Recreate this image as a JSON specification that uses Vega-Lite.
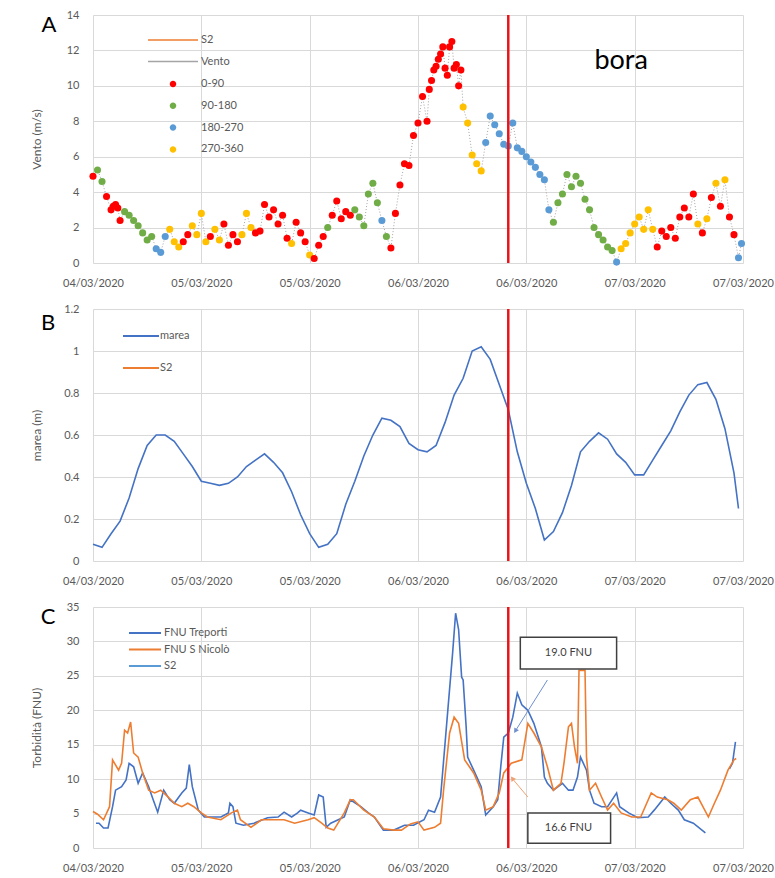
{
"$schema":"https://vega.github.io/schema/vega-lite/v6.json",
"padding":{"left":30,"top":9,"right":0,"bottom":0},
"background":"white",
"config":{
 "font":"Lato",
 "view":{"stroke":null},
 "axis":{"labelFont":"Lato","labelFontSize":11,"labelColor":"#595959","titleFont":"Lato","titleFontSize":12,"titleFontWeight":"normal","titleColor":"#595959","gridColor":"#d9d9d9","domain":false,"ticks":false},
 "legend":{"labelFont":"Lato","labelFontSize":11,"labelColor":"#595959","padding":0},
 "concat":{"spacing":15}
},
"datasets":{
"wind":[
{"t":"2020-03-04T12:00","v":4.9,"d":"0-90"},{"t":"2020-03-04T12:30","v":5.25,"d":"90-180"},{"t":"2020-03-04T13:00","v":4.6,"d":"90-180"},{"t":"2020-03-04T13:30","v":3.75,"d":"0-90"},{"t":"2020-03-04T14:00","v":3.0,"d":"0-90"},{"t":"2020-03-04T14:15","v":3.2,"d":"0-90"},{"t":"2020-03-04T14:30","v":3.3,"d":"0-90"},{"t":"2020-03-04T14:45","v":3.1,"d":"0-90"},{"t":"2020-03-04T15:00","v":2.4,"d":"0-90"},{"t":"2020-03-04T15:30","v":2.9,"d":"90-180"},{"t":"2020-03-04T16:00","v":2.7,"d":"90-180"},{"t":"2020-03-04T16:30","v":2.4,"d":"90-180"},{"t":"2020-03-04T17:00","v":2.1,"d":"90-180"},{"t":"2020-03-04T17:30","v":1.7,"d":"90-180"},{"t":"2020-03-04T18:00","v":1.3,"d":"90-180"},{"t":"2020-03-04T18:30","v":1.5,"d":"90-180"},{"t":"2020-03-04T19:00","v":0.8,"d":"180-270"},{"t":"2020-03-04T19:30","v":0.6,"d":"180-270"},{"t":"2020-03-04T20:00","v":1.5,"d":"180-270"},{"t":"2020-03-04T20:30","v":1.9,"d":"270-360"},{"t":"2020-03-04T21:00","v":1.2,"d":"270-360"},{"t":"2020-03-04T21:30","v":0.9,"d":"270-360"},{"t":"2020-03-04T22:00","v":1.2,"d":"0-90"},{"t":"2020-03-04T22:30","v":1.6,"d":"0-90"},{"t":"2020-03-04T23:00","v":2.1,"d":"270-360"},{"t":"2020-03-04T23:30","v":1.6,"d":"270-360"},
{"t":"2020-03-05T00:00","v":2.8,"d":"270-360"},{"t":"2020-03-05T00:30","v":1.2,"d":"270-360"},{"t":"2020-03-05T01:00","v":1.5,"d":"0-90"},{"t":"2020-03-05T01:30","v":1.9,"d":"270-360"},{"t":"2020-03-05T02:00","v":1.3,"d":"270-360"},{"t":"2020-03-05T02:30","v":2.2,"d":"0-90"},{"t":"2020-03-05T03:00","v":1.0,"d":"0-90"},{"t":"2020-03-05T03:30","v":1.6,"d":"0-90"},{"t":"2020-03-05T04:00","v":1.2,"d":"0-90"},{"t":"2020-03-05T04:30","v":1.6,"d":"270-360"},{"t":"2020-03-05T05:00","v":2.8,"d":"270-360"},{"t":"2020-03-05T05:30","v":2.0,"d":"270-360"},{"t":"2020-03-05T06:00","v":1.7,"d":"0-90"},{"t":"2020-03-05T06:30","v":1.8,"d":"0-90"},{"t":"2020-03-05T07:00","v":3.3,"d":"0-90"},{"t":"2020-03-05T07:30","v":2.6,"d":"0-90"},{"t":"2020-03-05T08:00","v":3.0,"d":"0-90"},{"t":"2020-03-05T08:30","v":2.2,"d":"0-90"},{"t":"2020-03-05T09:00","v":2.7,"d":"0-90"},{"t":"2020-03-05T09:30","v":1.4,"d":"0-90"},{"t":"2020-03-05T10:00","v":1.1,"d":"270-360"},{"t":"2020-03-05T10:30","v":2.3,"d":"0-90"},{"t":"2020-03-05T11:00","v":1.7,"d":"0-90"},{"t":"2020-03-05T11:30","v":1.2,"d":"0-90"},{"t":"2020-03-05T12:00","v":0.45,"d":"270-360"},{"t":"2020-03-05T12:30","v":0.25,"d":"0-90"},{"t":"2020-03-05T13:00","v":1.0,"d":"0-90"},{"t":"2020-03-05T13:30","v":1.5,"d":"0-90"},{"t":"2020-03-05T14:00","v":2.0,"d":"90-180"},{"t":"2020-03-05T14:30","v":2.7,"d":"0-90"},{"t":"2020-03-05T15:00","v":3.5,"d":"0-90"},{"t":"2020-03-05T15:30","v":2.5,"d":"0-90"},{"t":"2020-03-05T16:00","v":2.9,"d":"0-90"},{"t":"2020-03-05T16:30","v":2.7,"d":"0-90"},{"t":"2020-03-05T17:00","v":3.0,"d":"90-180"},{"t":"2020-03-05T17:30","v":2.6,"d":"90-180"},{"t":"2020-03-05T18:00","v":2.1,"d":"90-180"},{"t":"2020-03-05T18:30","v":3.9,"d":"90-180"},{"t":"2020-03-05T19:00","v":4.5,"d":"90-180"},{"t":"2020-03-05T19:30","v":3.4,"d":"90-180"},{"t":"2020-03-05T20:00","v":2.4,"d":"180-270"},{"t":"2020-03-05T20:30","v":1.5,"d":"90-180"},{"t":"2020-03-05T21:00","v":0.85,"d":"0-90"},{"t":"2020-03-05T21:30","v":2.8,"d":"0-90"},{"t":"2020-03-05T22:00","v":4.4,"d":"0-90"},{"t":"2020-03-05T22:30","v":5.6,"d":"0-90"},{"t":"2020-03-05T23:00","v":5.5,"d":"0-90"},{"t":"2020-03-05T23:30","v":7.2,"d":"0-90"},
{"t":"2020-03-06T00:00","v":7.9,"d":"0-90"},{"t":"2020-03-06T00:30","v":9.4,"d":"0-90"},{"t":"2020-03-06T01:00","v":8.0,"d":"0-90"},{"t":"2020-03-06T01:15","v":9.8,"d":"0-90"},{"t":"2020-03-06T01:30","v":10.3,"d":"0-90"},{"t":"2020-03-06T01:45","v":10.9,"d":"0-90"},{"t":"2020-03-06T02:00","v":11.1,"d":"0-90"},{"t":"2020-03-06T02:15","v":11.5,"d":"0-90"},{"t":"2020-03-06T02:30","v":11.8,"d":"0-90"},{"t":"2020-03-06T02:45","v":12.2,"d":"0-90"},{"t":"2020-03-06T03:00","v":11.0,"d":"0-90"},{"t":"2020-03-06T03:15","v":10.6,"d":"0-90"},{"t":"2020-03-06T03:30","v":12.2,"d":"0-90"},{"t":"2020-03-06T03:45","v":12.5,"d":"0-90"},{"t":"2020-03-06T04:00","v":11.0,"d":"0-90"},{"t":"2020-03-06T04:15","v":11.2,"d":"0-90"},{"t":"2020-03-06T04:30","v":10.0,"d":"0-90"},{"t":"2020-03-06T04:45","v":10.9,"d":"0-90"},{"t":"2020-03-06T05:00","v":8.8,"d":"270-360"},{"t":"2020-03-06T05:30","v":7.9,"d":"270-360"},{"t":"2020-03-06T06:00","v":6.1,"d":"270-360"},{"t":"2020-03-06T06:30","v":5.6,"d":"270-360"},{"t":"2020-03-06T07:00","v":5.2,"d":"270-360"},{"t":"2020-03-06T07:30","v":6.8,"d":"180-270"},{"t":"2020-03-06T08:00","v":8.3,"d":"180-270"},{"t":"2020-03-06T08:30","v":7.8,"d":"180-270"},{"t":"2020-03-06T09:00","v":7.3,"d":"180-270"},{"t":"2020-03-06T09:30","v":6.7,"d":"180-270"},{"t":"2020-03-06T10:00","v":6.6,"d":"180-270"},{"t":"2020-03-06T10:30","v":7.9,"d":"180-270"},{"t":"2020-03-06T11:00","v":6.5,"d":"180-270"},{"t":"2020-03-06T11:30","v":6.3,"d":"180-270"},{"t":"2020-03-06T12:00","v":6.0,"d":"180-270"},{"t":"2020-03-06T12:30","v":5.7,"d":"180-270"},{"t":"2020-03-06T13:00","v":5.4,"d":"180-270"},{"t":"2020-03-06T13:30","v":5.0,"d":"180-270"},{"t":"2020-03-06T14:00","v":4.7,"d":"180-270"},{"t":"2020-03-06T14:30","v":3.0,"d":"180-270"},{"t":"2020-03-06T15:00","v":2.3,"d":"90-180"},{"t":"2020-03-06T15:30","v":3.4,"d":"90-180"},{"t":"2020-03-06T16:00","v":3.9,"d":"90-180"},{"t":"2020-03-06T16:30","v":5.0,"d":"90-180"},{"t":"2020-03-06T17:00","v":4.3,"d":"90-180"},{"t":"2020-03-06T17:30","v":4.9,"d":"90-180"},{"t":"2020-03-06T18:00","v":4.5,"d":"90-180"},{"t":"2020-03-06T18:30","v":3.6,"d":"90-180"},{"t":"2020-03-06T19:00","v":3.0,"d":"90-180"},{"t":"2020-03-06T19:30","v":2.0,"d":"90-180"},{"t":"2020-03-06T20:00","v":1.6,"d":"90-180"},{"t":"2020-03-06T20:30","v":1.3,"d":"90-180"},{"t":"2020-03-06T21:00","v":0.9,"d":"90-180"},{"t":"2020-03-06T21:30","v":0.7,"d":"90-180"},{"t":"2020-03-06T22:00","v":0.05,"d":"180-270"},{"t":"2020-03-06T22:30","v":0.8,"d":"270-360"},{"t":"2020-03-06T23:00","v":1.1,"d":"270-360"},{"t":"2020-03-06T23:30","v":1.7,"d":"270-360"},
{"t":"2020-03-07T00:00","v":2.2,"d":"270-360"},{"t":"2020-03-07T00:30","v":2.6,"d":"270-360"},{"t":"2020-03-07T01:00","v":1.9,"d":"270-360"},{"t":"2020-03-07T01:30","v":3.0,"d":"270-360"},{"t":"2020-03-07T02:00","v":1.9,"d":"270-360"},{"t":"2020-03-07T02:30","v":0.9,"d":"0-90"},{"t":"2020-03-07T03:00","v":1.8,"d":"0-90"},{"t":"2020-03-07T03:30","v":1.5,"d":"0-90"},{"t":"2020-03-07T04:00","v":2.0,"d":"0-90"},{"t":"2020-03-07T04:30","v":1.4,"d":"0-90"},{"t":"2020-03-07T05:00","v":2.6,"d":"0-90"},{"t":"2020-03-07T05:30","v":3.1,"d":"0-90"},{"t":"2020-03-07T06:00","v":2.6,"d":"0-90"},{"t":"2020-03-07T06:30","v":3.9,"d":"0-90"},{"t":"2020-03-07T07:00","v":2.2,"d":"270-360"},{"t":"2020-03-07T07:30","v":1.7,"d":"0-90"},{"t":"2020-03-07T08:00","v":2.5,"d":"270-360"},{"t":"2020-03-07T08:30","v":3.7,"d":"0-90"},{"t":"2020-03-07T09:00","v":4.5,"d":"270-360"},{"t":"2020-03-07T09:30","v":3.2,"d":"0-90"},{"t":"2020-03-07T10:00","v":4.7,"d":"270-360"},{"t":"2020-03-07T10:30","v":2.6,"d":"0-90"},{"t":"2020-03-07T11:00","v":1.6,"d":"0-90"},{"t":"2020-03-07T11:30","v":0.3,"d":"180-270"},{"t":"2020-03-07T11:50","v":1.1,"d":"180-270"}
],
"marea":[
{"t":"2020-03-04T12:00","m":0.08},{"t":"2020-03-04T13:00","m":0.065},{"t":"2020-03-04T14:00","m":0.13},{"t":"2020-03-04T15:00","m":0.19},{"t":"2020-03-04T16:00","m":0.3},{"t":"2020-03-04T17:00","m":0.44},{"t":"2020-03-04T18:00","m":0.55},{"t":"2020-03-04T19:00","m":0.6},{"t":"2020-03-04T20:00","m":0.6},{"t":"2020-03-04T21:00","m":0.57},{"t":"2020-03-04T22:00","m":0.51},{"t":"2020-03-04T23:00","m":0.45},
{"t":"2020-03-05T00:00","m":0.38},{"t":"2020-03-05T01:00","m":0.37},{"t":"2020-03-05T02:00","m":0.36},{"t":"2020-03-05T03:00","m":0.37},{"t":"2020-03-05T04:00","m":0.4},{"t":"2020-03-05T05:00","m":0.45},{"t":"2020-03-05T06:00","m":0.48},{"t":"2020-03-05T07:00","m":0.51},{"t":"2020-03-05T08:00","m":0.47},{"t":"2020-03-05T09:00","m":0.42},{"t":"2020-03-05T10:00","m":0.33},{"t":"2020-03-05T11:00","m":0.22},{"t":"2020-03-05T12:00","m":0.13},{"t":"2020-03-05T13:00","m":0.065},{"t":"2020-03-05T14:00","m":0.08},{"t":"2020-03-05T15:00","m":0.13},{"t":"2020-03-05T16:00","m":0.27},{"t":"2020-03-05T17:00","m":0.38},{"t":"2020-03-05T18:00","m":0.5},{"t":"2020-03-05T19:00","m":0.6},{"t":"2020-03-05T20:00","m":0.68},{"t":"2020-03-05T21:00","m":0.67},{"t":"2020-03-05T22:00","m":0.64},{"t":"2020-03-05T23:00","m":0.56},
{"t":"2020-03-06T00:00","m":0.53},{"t":"2020-03-06T01:00","m":0.52},{"t":"2020-03-06T02:00","m":0.55},{"t":"2020-03-06T03:00","m":0.66},{"t":"2020-03-06T04:00","m":0.79},{"t":"2020-03-06T05:00","m":0.87},{"t":"2020-03-06T06:00","m":1.0},{"t":"2020-03-06T07:00","m":1.02},{"t":"2020-03-06T08:00","m":0.96},{"t":"2020-03-06T09:00","m":0.84},{"t":"2020-03-06T10:00","m":0.72},{"t":"2020-03-06T11:00","m":0.52},{"t":"2020-03-06T12:00","m":0.37},{"t":"2020-03-06T13:00","m":0.25},{"t":"2020-03-06T14:00","m":0.1},{"t":"2020-03-06T15:00","m":0.14},{"t":"2020-03-06T16:00","m":0.23},{"t":"2020-03-06T17:00","m":0.36},{"t":"2020-03-06T18:00","m":0.52},{"t":"2020-03-06T19:00","m":0.57},{"t":"2020-03-06T20:00","m":0.61},{"t":"2020-03-06T21:00","m":0.58},{"t":"2020-03-06T22:00","m":0.51},{"t":"2020-03-06T23:00","m":0.47},
{"t":"2020-03-07T00:00","m":0.41},{"t":"2020-03-07T01:00","m":0.41},{"t":"2020-03-07T02:00","m":0.48},{"t":"2020-03-07T03:00","m":0.55},{"t":"2020-03-07T04:00","m":0.62},{"t":"2020-03-07T05:00","m":0.71},{"t":"2020-03-07T06:00","m":0.79},{"t":"2020-03-07T07:00","m":0.84},{"t":"2020-03-07T08:00","m":0.85},{"t":"2020-03-07T09:00","m":0.77},{"t":"2020-03-07T10:00","m":0.63},{"t":"2020-03-07T11:00","m":0.42},{"t":"2020-03-07T11:30","m":0.25}
],
"turb":[
{"t":"2020-03-04T12:20","f":3.6,"s":"FNU Treporti","g":"a"},{"t":"2020-03-04T12:40","f":3.6,"s":"FNU Treporti","g":"a"},{"t":"2020-03-04T13:10","f":2.9,"s":"FNU Treporti","g":"a"},{"t":"2020-03-04T13:40","f":2.9,"s":"FNU Treporti","g":"a"},{"t":"2020-03-04T14:10","f":6.0,"s":"FNU Treporti","g":"a"},{"t":"2020-03-04T14:30","f":8.4,"s":"FNU Treporti","g":"a"},{"t":"2020-03-04T15:10","f":8.9,"s":"FNU Treporti","g":"a"},{"t":"2020-03-04T15:40","f":9.9,"s":"FNU Treporti","g":"a"},{"t":"2020-03-04T16:00","f":12.3,"s":"FNU Treporti","g":"a"},{"t":"2020-03-04T16:30","f":11.8,"s":"FNU Treporti","g":"a"},{"t":"2020-03-04T17:00","f":9.4,"s":"FNU Treporti","g":"a"},{"t":"2020-03-04T17:30","f":10.9,"s":"FNU Treporti","g":"a"},{"t":"2020-03-04T18:10","f":8.9,"s":"FNU Treporti","g":"a"},{"t":"2020-03-04T18:40","f":7.0,"s":"FNU Treporti","g":"a"},{"t":"2020-03-04T19:10","f":5.2,"s":"FNU Treporti","g":"a"},{"t":"2020-03-04T19:50","f":8.4,"s":"FNU Treporti","g":"a"},{"t":"2020-03-04T20:30","f":7.0,"s":"FNU Treporti","g":"a"},{"t":"2020-03-04T21:00","f":6.5,"s":"FNU Treporti","g":"a"},{"t":"2020-03-04T21:50","f":8.0,"s":"FNU Treporti","g":"a"},{"t":"2020-03-04T22:20","f":8.7,"s":"FNU Treporti","g":"a"},{"t":"2020-03-04T22:40","f":12.1,"s":"FNU Treporti","g":"a"},{"t":"2020-03-04T23:00","f":8.9,"s":"FNU Treporti","g":"a"},{"t":"2020-03-04T23:40","f":5.5,"s":"FNU Treporti","g":"a"},{"t":"2020-03-05T00:20","f":4.5,"s":"FNU Treporti","g":"a"},{"t":"2020-03-05T01:20","f":4.5,"s":"FNU Treporti","g":"a"},{"t":"2020-03-05T02:10","f":4.5,"s":"FNU Treporti","g":"a"},{"t":"2020-03-05T03:00","f":5.1,"s":"FNU Treporti","g":"a"},{"t":"2020-03-05T03:10","f":6.5,"s":"FNU Treporti","g":"a"},{"t":"2020-03-05T03:30","f":6.0,"s":"FNU Treporti","g":"a"},{"t":"2020-03-05T03:50","f":3.6,"s":"FNU Treporti","g":"a"},{"t":"2020-03-05T04:40","f":3.3,"s":"FNU Treporti","g":"a"},{"t":"2020-03-05T05:50","f":3.6,"s":"FNU Treporti","g":"a"},{"t":"2020-03-05T07:20","f":4.4,"s":"FNU Treporti","g":"a"},{"t":"2020-03-05T08:30","f":4.5,"s":"FNU Treporti","g":"a"},{"t":"2020-03-05T09:10","f":5.2,"s":"FNU Treporti","g":"a"},{"t":"2020-03-05T10:00","f":4.5,"s":"FNU Treporti","g":"a"},{"t":"2020-03-05T10:40","f":5.1,"s":"FNU Treporti","g":"a"},{"t":"2020-03-05T11:00","f":5.5,"s":"FNU Treporti","g":"a"},{"t":"2020-03-05T11:50","f":5.1,"s":"FNU Treporti","g":"a"},{"t":"2020-03-05T12:30","f":4.8,"s":"FNU Treporti","g":"a"},{"t":"2020-03-05T13:00","f":7.7,"s":"FNU Treporti","g":"a"},{"t":"2020-03-05T13:30","f":7.4,"s":"FNU Treporti","g":"a"},{"t":"2020-03-05T13:50","f":3.0,"s":"FNU Treporti","g":"a"},{"t":"2020-03-05T14:20","f":3.6,"s":"FNU Treporti","g":"a"},{"t":"2020-03-05T15:10","f":4.1,"s":"FNU Treporti","g":"a"},{"t":"2020-03-05T15:50","f":4.5,"s":"FNU Treporti","g":"a"},{"t":"2020-03-05T16:30","f":7.0,"s":"FNU Treporti","g":"a"},{"t":"2020-03-05T17:40","f":6.0,"s":"FNU Treporti","g":"a"},{"t":"2020-03-05T18:30","f":5.1,"s":"FNU Treporti","g":"a"},{"t":"2020-03-05T19:10","f":4.5,"s":"FNU Treporti","g":"a"},{"t":"2020-03-05T20:10","f":2.6,"s":"FNU Treporti","g":"a"},{"t":"2020-03-05T21:20","f":2.6,"s":"FNU Treporti","g":"a"},{"t":"2020-03-05T22:30","f":3.3,"s":"FNU Treporti","g":"a"},{"t":"2020-03-05T23:30","f":3.3,"s":"FNU Treporti","g":"a"},{"t":"2020-03-06T00:40","f":4.1,"s":"FNU Treporti","g":"a"},{"t":"2020-03-06T01:10","f":5.5,"s":"FNU Treporti","g":"a"},{"t":"2020-03-06T01:50","f":5.2,"s":"FNU Treporti","g":"a"},{"t":"2020-03-06T02:30","f":7.4,"s":"FNU Treporti","g":"a"},{"t":"2020-03-06T03:20","f":20.5,"s":"FNU Treporti","g":"a"},{"t":"2020-03-06T03:50","f":28.3,"s":"FNU Treporti","g":"a"},{"t":"2020-03-06T04:10","f":34.1,"s":"FNU Treporti","g":"a"},{"t":"2020-03-06T04:30","f":31.7,"s":"FNU Treporti","g":"a"},{"t":"2020-03-06T04:50","f":24.8,"s":"FNU Treporti","g":"a"},{"t":"2020-03-06T05:00","f":24.4,"s":"FNU Treporti","g":"a"},{"t":"2020-03-06T05:20","f":17.6,"s":"FNU Treporti","g":"a"},{"t":"2020-03-06T05:30","f":13.2,"s":"FNU Treporti","g":"a"},{"t":"2020-03-06T06:10","f":11.3,"s":"FNU Treporti","g":"a"},{"t":"2020-03-06T07:00","f":8.9,"s":"FNU Treporti","g":"a"},{"t":"2020-03-06T07:30","f":4.8,"s":"FNU Treporti","g":"a"},{"t":"2020-03-06T08:20","f":6.0,"s":"FNU Treporti","g":"a"},{"t":"2020-03-06T08:50","f":7.0,"s":"FNU Treporti","g":"a"},{"t":"2020-03-06T09:10","f":11.8,"s":"FNU Treporti","g":"a"},{"t":"2020-03-06T09:30","f":16.1,"s":"FNU Treporti","g":"a"},{"t":"2020-03-06T10:00","f":16.7,"s":"FNU Treporti","g":"a"},{"t":"2020-03-06T10:30","f":19.0,"s":"FNU Treporti","g":"a"},{"t":"2020-03-06T11:00","f":22.5,"s":"FNU Treporti","g":"a"},{"t":"2020-03-06T11:30","f":20.8,"s":"FNU Treporti","g":"a"},{"t":"2020-03-06T12:10","f":20.0,"s":"FNU Treporti","g":"a"},{"t":"2020-03-06T12:50","f":18.1,"s":"FNU Treporti","g":"a"},{"t":"2020-03-06T13:40","f":14.7,"s":"FNU Treporti","g":"a"},{"t":"2020-03-06T14:00","f":10.3,"s":"FNU Treporti","g":"a"},{"t":"2020-03-06T14:20","f":9.4,"s":"FNU Treporti","g":"a"},{"t":"2020-03-06T15:00","f":8.4,"s":"FNU Treporti","g":"a"},{"t":"2020-03-06T16:00","f":9.4,"s":"FNU Treporti","g":"a"},{"t":"2020-03-06T16:40","f":8.4,"s":"FNU Treporti","g":"a"},{"t":"2020-03-06T17:10","f":8.4,"s":"FNU Treporti","g":"a"},{"t":"2020-03-06T17:40","f":10.3,"s":"FNU Treporti","g":"a"},{"t":"2020-03-06T18:00","f":13.2,"s":"FNU Treporti","g":"a"},{"t":"2020-03-06T18:40","f":11.3,"s":"FNU Treporti","g":"a"},{"t":"2020-03-06T19:00","f":8.4,"s":"FNU Treporti","g":"a"},{"t":"2020-03-06T19:30","f":6.5,"s":"FNU Treporti","g":"a"},{"t":"2020-03-06T20:20","f":6.0,"s":"FNU Treporti","g":"a"},{"t":"2020-03-06T21:00","f":6.0,"s":"FNU Treporti","g":"a"},{"t":"2020-03-06T22:00","f":8.0,"s":"FNU Treporti","g":"a"},{"t":"2020-03-06T22:20","f":6.0,"s":"FNU Treporti","g":"a"},{"t":"2020-03-06T23:20","f":5.1,"s":"FNU Treporti","g":"a"},{"t":"2020-03-07T00:20","f":4.4,"s":"FNU Treporti","g":"a"},{"t":"2020-03-07T01:30","f":4.5,"s":"FNU Treporti","g":"a"},{"t":"2020-03-07T02:10","f":5.5,"s":"FNU Treporti","g":"a"},{"t":"2020-03-07T03:20","f":7.4,"s":"FNU Treporti","g":"a"},{"t":"2020-03-07T04:00","f":6.5,"s":"FNU Treporti","g":"a"},{"t":"2020-03-07T04:50","f":5.5,"s":"FNU Treporti","g":"a"},{"t":"2020-03-07T05:30","f":4.1,"s":"FNU Treporti","g":"a"},{"t":"2020-03-07T06:30","f":3.6,"s":"FNU Treporti","g":"a"},{"t":"2020-03-07T07:50","f":2.2,"s":"FNU Treporti","g":"a"},
{"t":"2020-03-07T10:30","f":11.5,"s":"FNU Treporti","g":"b"},{"t":"2020-03-07T10:50","f":12.3,"s":"FNU Treporti","g":"b"},{"t":"2020-03-07T11:10","f":15.4,"s":"FNU Treporti","g":"b"},
{"t":"2020-03-04T12:00","f":5.3,"s":"FNU S Nicolò","g":"a"},{"t":"2020-03-04T12:30","f":4.9,"s":"FNU S Nicolò","g":"a"},{"t":"2020-03-04T13:10","f":4.1,"s":"FNU S Nicolò","g":"a"},{"t":"2020-03-04T13:50","f":6.0,"s":"FNU S Nicolò","g":"a"},{"t":"2020-03-04T14:10","f":12.8,"s":"FNU S Nicolò","g":"a"},{"t":"2020-03-04T14:50","f":11.3,"s":"FNU S Nicolò","g":"a"},{"t":"2020-03-04T15:10","f":12.3,"s":"FNU S Nicolò","g":"a"},{"t":"2020-03-04T15:30","f":17.1,"s":"FNU S Nicolò","g":"a"},{"t":"2020-03-04T15:50","f":16.7,"s":"FNU S Nicolò","g":"a"},{"t":"2020-03-04T16:10","f":18.3,"s":"FNU S Nicolò","g":"a"},{"t":"2020-03-04T16:30","f":13.8,"s":"FNU S Nicolò","g":"a"},{"t":"2020-03-04T17:00","f":13.2,"s":"FNU S Nicolò","g":"a"},{"t":"2020-03-04T17:30","f":10.9,"s":"FNU S Nicolò","g":"a"},{"t":"2020-03-04T18:10","f":8.4,"s":"FNU S Nicolò","g":"a"},{"t":"2020-03-04T18:50","f":8.0,"s":"FNU S Nicolò","g":"a"},{"t":"2020-03-04T19:30","f":8.4,"s":"FNU S Nicolò","g":"a"},{"t":"2020-03-04T20:20","f":7.4,"s":"FNU S Nicolò","g":"a"},{"t":"2020-03-04T21:00","f":6.5,"s":"FNU S Nicolò","g":"a"},{"t":"2020-03-04T21:50","f":6.0,"s":"FNU S Nicolò","g":"a"},{"t":"2020-03-04T22:30","f":6.5,"s":"FNU S Nicolò","g":"a"},{"t":"2020-03-04T23:10","f":6.0,"s":"FNU S Nicolò","g":"a"},{"t":"2020-03-05T00:00","f":5.1,"s":"FNU S Nicolò","g":"a"},{"t":"2020-03-05T00:40","f":4.5,"s":"FNU S Nicolò","g":"a"},{"t":"2020-03-05T02:10","f":4.1,"s":"FNU S Nicolò","g":"a"},{"t":"2020-03-05T03:20","f":5.1,"s":"FNU S Nicolò","g":"a"},{"t":"2020-03-05T04:00","f":5.5,"s":"FNU S Nicolò","g":"a"},{"t":"2020-03-05T04:20","f":4.1,"s":"FNU S Nicolò","g":"a"},{"t":"2020-03-05T05:30","f":3.0,"s":"FNU S Nicolò","g":"a"},{"t":"2020-03-05T06:40","f":4.1,"s":"FNU S Nicolò","g":"a"},{"t":"2020-03-05T07:40","f":4.1,"s":"FNU S Nicolò","g":"a"},{"t":"2020-03-05T09:10","f":4.1,"s":"FNU S Nicolò","g":"a"},{"t":"2020-03-05T10:20","f":3.6,"s":"FNU S Nicolò","g":"a"},{"t":"2020-03-05T11:50","f":4.1,"s":"FNU S Nicolò","g":"a"},{"t":"2020-03-05T12:30","f":4.4,"s":"FNU S Nicolò","g":"a"},{"t":"2020-03-05T13:20","f":3.6,"s":"FNU S Nicolò","g":"a"},{"t":"2020-03-05T14:00","f":2.9,"s":"FNU S Nicolò","g":"a"},{"t":"2020-03-05T14:40","f":2.6,"s":"FNU S Nicolò","g":"a"},{"t":"2020-03-05T15:50","f":5.1,"s":"FNU S Nicolò","g":"a"},{"t":"2020-03-05T16:30","f":7.0,"s":"FNU S Nicolò","g":"a"},{"t":"2020-03-05T16:50","f":7.0,"s":"FNU S Nicolò","g":"a"},{"t":"2020-03-05T18:00","f":5.5,"s":"FNU S Nicolò","g":"a"},{"t":"2020-03-05T19:10","f":4.5,"s":"FNU S Nicolò","g":"a"},{"t":"2020-03-05T20:10","f":2.8,"s":"FNU S Nicolò","g":"a"},{"t":"2020-03-05T21:20","f":2.6,"s":"FNU S Nicolò","g":"a"},{"t":"2020-03-05T22:10","f":2.6,"s":"FNU S Nicolò","g":"a"},{"t":"2020-03-05T23:10","f":3.5,"s":"FNU S Nicolò","g":"a"},{"t":"2020-03-06T00:00","f":3.8,"s":"FNU S Nicolò","g":"a"},{"t":"2020-03-06T00:40","f":2.6,"s":"FNU S Nicolò","g":"a"},{"t":"2020-03-06T01:50","f":3.0,"s":"FNU S Nicolò","g":"a"},{"t":"2020-03-06T02:30","f":3.6,"s":"FNU S Nicolò","g":"a"},{"t":"2020-03-06T02:50","f":8.4,"s":"FNU S Nicolò","g":"a"},{"t":"2020-03-06T03:30","f":16.7,"s":"FNU S Nicolò","g":"a"},{"t":"2020-03-06T04:00","f":19.0,"s":"FNU S Nicolò","g":"a"},{"t":"2020-03-06T04:30","f":18.1,"s":"FNU S Nicolò","g":"a"},{"t":"2020-03-06T05:10","f":12.8,"s":"FNU S Nicolò","g":"a"},{"t":"2020-03-06T06:10","f":10.9,"s":"FNU S Nicolò","g":"a"},{"t":"2020-03-06T07:00","f":8.4,"s":"FNU S Nicolò","g":"a"},{"t":"2020-03-06T07:30","f":5.5,"s":"FNU S Nicolò","g":"a"},{"t":"2020-03-06T08:20","f":6.0,"s":"FNU S Nicolò","g":"a"},{"t":"2020-03-06T09:00","f":8.0,"s":"FNU S Nicolò","g":"a"},{"t":"2020-03-06T09:30","f":10.9,"s":"FNU S Nicolò","g":"a"},{"t":"2020-03-06T10:20","f":12.3,"s":"FNU S Nicolò","g":"a"},{"t":"2020-03-06T11:30","f":12.8,"s":"FNU S Nicolò","g":"a"},{"t":"2020-03-06T12:10","f":18.1,"s":"FNU S Nicolò","g":"a"},{"t":"2020-03-06T12:50","f":16.7,"s":"FNU S Nicolò","g":"a"},{"t":"2020-03-06T13:40","f":14.7,"s":"FNU S Nicolò","g":"a"},{"t":"2020-03-06T14:20","f":11.8,"s":"FNU S Nicolò","g":"a"},{"t":"2020-03-06T15:00","f":8.4,"s":"FNU S Nicolò","g":"a"},{"t":"2020-03-06T15:50","f":9.4,"s":"FNU S Nicolò","g":"a"},{"t":"2020-03-06T16:10","f":12.3,"s":"FNU S Nicolò","g":"a"},{"t":"2020-03-06T16:40","f":17.6,"s":"FNU S Nicolò","g":"a"},{"t":"2020-03-06T17:00","f":18.1,"s":"FNU S Nicolò","g":"a"},{"t":"2020-03-06T17:20","f":14.7,"s":"FNU S Nicolò","g":"a"},{"t":"2020-03-06T17:40","f":12.3,"s":"FNU S Nicolò","g":"a"},{"t":"2020-03-06T17:50","f":25.8,"s":"FNU S Nicolò","g":"a"},{"t":"2020-03-06T18:30","f":25.8,"s":"FNU S Nicolò","g":"a"},{"t":"2020-03-06T18:40","f":13.2,"s":"FNU S Nicolò","g":"a"},{"t":"2020-03-06T19:00","f":8.4,"s":"FNU S Nicolò","g":"a"},{"t":"2020-03-06T19:40","f":9.4,"s":"FNU S Nicolò","g":"a"},{"t":"2020-03-06T20:20","f":7.4,"s":"FNU S Nicolò","g":"a"},{"t":"2020-03-06T21:00","f":5.5,"s":"FNU S Nicolò","g":"a"},{"t":"2020-03-06T21:40","f":6.5,"s":"FNU S Nicolò","g":"a"},{"t":"2020-03-06T22:30","f":5.1,"s":"FNU S Nicolò","g":"a"},{"t":"2020-03-06T23:40","f":4.5,"s":"FNU S Nicolò","g":"a"},{"t":"2020-03-07T00:40","f":4.5,"s":"FNU S Nicolò","g":"a"},{"t":"2020-03-07T01:50","f":8.0,"s":"FNU S Nicolò","g":"a"},{"t":"2020-03-07T02:30","f":7.4,"s":"FNU S Nicolò","g":"a"},{"t":"2020-03-07T03:40","f":7.0,"s":"FNU S Nicolò","g":"a"},{"t":"2020-03-07T04:20","f":6.5,"s":"FNU S Nicolò","g":"a"},{"t":"2020-03-07T05:10","f":5.5,"s":"FNU S Nicolò","g":"a"},{"t":"2020-03-07T06:10","f":7.0,"s":"FNU S Nicolò","g":"a"},{"t":"2020-03-07T07:00","f":7.4,"s":"FNU S Nicolò","g":"a"},{"t":"2020-03-07T08:10","f":4.5,"s":"FNU S Nicolò","g":"a"},{"t":"2020-03-07T08:50","f":6.5,"s":"FNU S Nicolò","g":"a"},{"t":"2020-03-07T09:30","f":8.4,"s":"FNU S Nicolò","g":"a"},{"t":"2020-03-07T10:20","f":11.3,"s":"FNU S Nicolò","g":"a"},{"t":"2020-03-07T11:00","f":12.8,"s":"FNU S Nicolò","g":"a"},{"t":"2020-03-07T11:15","f":13.0,"s":"FNU S Nicolò","g":"a"}
]
},
"vconcat":[
{
 "width":650,"height":248,
 "layer":[
  {"data":{"name":"wind"},"mark":{"type":"line","strokeWidth":1,"strokeDash":[1,2]},
   "encoding":{
    "x":{"field":"t","type":"temporal","title":null,"scale":{"domain":[{"year":2020,"month":3,"date":4,"hours":12},{"year":2020,"month":3,"date":7,"hours":12}],"nice":false},"axis":{"format":"%d/%m/%Y","values":[{"year":2020,"month":3,"date":4,"hours":12},{"year":2020,"month":3,"date":5,"hours":0},{"year":2020,"month":3,"date":5,"hours":12},{"year":2020,"month":3,"date":6,"hours":0},{"year":2020,"month":3,"date":6,"hours":12},{"year":2020,"month":3,"date":7,"hours":0},{"year":2020,"month":3,"date":7,"hours":12}],"tickCount":50,"labelOverlap":false,"labelFlush":false,"labelPadding":14,"grid":true}},
    "y":{"field":"v","type":"quantitative","scale":{"domain":[0,14],"nice":false},"axis":{"values":[0,2,4,6,8,10,12,14],"format":"d","tickCount":50,"labelOverlap":false,"title":"Vento (m/s)","titleX":-50,"labelPadding":14,"grid":true}},
    "stroke":{"datum":"Vento","type":"nominal","scale":{"domain":["S2","Vento"],"range":["#ED7D31","#A5A5A5"]},
     "legend":{"orient":"none","legendX":74,"legendY":19,"title":null,"symbolType":"M-5,0H5","symbolSize":100,"symbolStrokeWidth":1.5,"labelOffset":22,"rowPadding":10.5}}}},
  {"data":{"name":"wind"},"mark":{"type":"point","filled":true,"size":50,"opacity":1},
   "encoding":{
    "x":{"field":"t","type":"temporal"},
    "y":{"field":"v","type":"quantitative"},
    "color":{"field":"d","type":"nominal","scale":{"domain":["0-90","90-180","180-270","270-360"],"range":["#FF0000","#70AD47","#5B9BD5","#FFC000"]},
     "legend":{"orient":"none","legendX":74,"legendY":63,"title":null,"symbolType":"M-0.65,0A0.65,0.65,0,1,1,0.65,0A0.65,0.65,0,1,1,-0.65,0Z","symbolSize":100,"symbolStrokeWidth":1.5,"labelOffset":22,"rowPadding":10.8}}}},
  {"data":{"values":[{}]},"mark":{"type":"rule","color":"#E8141B","strokeWidth":2.5},"encoding":{"x":{"datum":{"year":2020,"month":3,"date":6,"hours":10},"type":"temporal"}}},
  {"data":{"values":[{}]},"mark":{"type":"text","fontSize":27,"font":"Lato","color":"black","align":"center","baseline":"middle"},"encoding":{"x":{"datum":{"year":2020,"month":3,"date":6,"hours":22,"minutes":30},"type":"temporal"},"y":{"datum":11.4,"type":"quantitative"},"text":{"value":"bora"}}},
  {"data":{"values":[{}]},"mark":{"type":"text","fontSize":22,"font":"Lato","color":"black","align":"center","baseline":"middle","dx":-44,"dy":10},"encoding":{"x":{"datum":{"year":2020,"month":3,"date":4,"hours":12},"type":"temporal"},"y":{"datum":14,"type":"quantitative"},"text":{"value":"A"}}}
 ]
},
{
 "width":650,"height":252,
 "layer":[
  {"data":{"name":"marea"},"mark":{"type":"line","strokeWidth":1.6},
   "encoding":{
    "x":{"field":"t","type":"temporal","title":null,"scale":{"domain":[{"year":2020,"month":3,"date":4,"hours":12},{"year":2020,"month":3,"date":7,"hours":12}],"nice":false},"axis":{"format":"%d/%m/%Y","values":[{"year":2020,"month":3,"date":4,"hours":12},{"year":2020,"month":3,"date":5,"hours":0},{"year":2020,"month":3,"date":5,"hours":12},{"year":2020,"month":3,"date":6,"hours":0},{"year":2020,"month":3,"date":6,"hours":12},{"year":2020,"month":3,"date":7,"hours":0},{"year":2020,"month":3,"date":7,"hours":12}],"tickCount":50,"labelOverlap":false,"labelFlush":false,"labelPadding":14,"grid":true}},
    "y":{"field":"m","type":"quantitative","scale":{"domain":[0,1.2],"nice":false},"axis":{"values":[0,0.2,0.4,0.6,0.8,1,1.2],"tickCount":50,"labelOverlap":false,"format":".1~f","title":"marea (m)","titleX":-50,"labelPadding":14,"grid":true}},
    "color":{"datum":"marea","type":"nominal","scale":{"domain":["marea","S2"],"range":["#4472C4","#ED7D31"]},
     "legend":{"orient":"none","legendX":29,"legendY":8,"title":null,"symbolType":"stroke","symbolSize":1296,"symbolStrokeWidth":2,"labelOffset":0,"rowPadding":8}}}},
  {"data":{"values":[{}]},"mark":{"type":"rule","color":"#E8141B","strokeWidth":2.5},"encoding":{"x":{"datum":{"year":2020,"month":3,"date":6,"hours":10},"type":"temporal"}}},
  {"data":{"values":[{}]},"mark":{"type":"text","fontSize":22,"font":"Lato","color":"black","align":"center","baseline":"middle","dx":-45,"dy":14},"encoding":{"x":{"datum":{"year":2020,"month":3,"date":4,"hours":12},"type":"temporal"},"y":{"datum":1.2,"type":"quantitative"},"text":{"value":"B"}}}
 ]
},
{
 "width":650,"height":241,
 "layer":[
  {"data":{"name":"turb"},"mark":{"type":"line","strokeWidth":1.6},
   "encoding":{
    "x":{"field":"t","type":"temporal","title":null,"scale":{"domain":[{"year":2020,"month":3,"date":4,"hours":12},{"year":2020,"month":3,"date":7,"hours":12}],"nice":false},"axis":{"format":"%d/%m/%Y","values":[{"year":2020,"month":3,"date":4,"hours":12},{"year":2020,"month":3,"date":5,"hours":0},{"year":2020,"month":3,"date":5,"hours":12},{"year":2020,"month":3,"date":6,"hours":0},{"year":2020,"month":3,"date":6,"hours":12},{"year":2020,"month":3,"date":7,"hours":0},{"year":2020,"month":3,"date":7,"hours":12}],"tickCount":50,"labelOverlap":false,"labelFlush":false,"labelPadding":14,"grid":true}},
    "y":{"field":"f","type":"quantitative","scale":{"domain":[0,35],"nice":false},"axis":{"values":[0,5,10,15,20,25,30,35],"format":"d","tickCount":50,"labelOverlap":false,"title":"Torbidità (FNU)","titleX":-50,"labelPadding":14,"grid":true}},
    "color":{"field":"s","type":"nominal","scale":{"domain":["FNU Treporti","FNU S Nicolò","S2"],"range":["#4472C4","#ED7D31","#5B9BD5"]},
     "legend":{"orient":"none","legendX":46,"legendY":20,"title":null,"symbolType":"M-3.2,0H3.2","symbolSize":100,"symbolStrokeWidth":2,"labelOffset":13,"rowPadding":5.5}},
    "detail":{"field":"g"}}},
  {"data":{"values":[{}]},"mark":{"type":"rule","color":"#E8141B","strokeWidth":2.5},"encoding":{"x":{"datum":{"year":2020,"month":3,"date":6,"hours":10},"type":"temporal"}}},
  {"data":{"values":[{}]},"mark":{"type":"rule","color":"#6F8FD0","strokeWidth":1},"encoding":{"x":{"datum":{"year":2020,"month":3,"date":6,"hours":14,"minutes":20},"type":"temporal"},"y":{"datum":24.4,"type":"quantitative"},"x2":{"datum":{"year":2020,"month":3,"date":6,"hours":10,"minutes":50}},"y2":{"datum":17.1}}},
  {"data":{"values":[{}]},"mark":{"type":"point","shape":"triangle","filled":true,"size":30,"color":"#6F8FD0","angle":212,"opacity":1},"encoding":{"x":{"datum":{"year":2020,"month":3,"date":6,"hours":10,"minutes":50},"type":"temporal"},"y":{"datum":17.1,"type":"quantitative"}}},
  {"data":{"values":[{}]},"mark":{"type":"rule","color":"#F0A070","strokeWidth":1},"encoding":{"x":{"datum":{"year":2020,"month":3,"date":6,"hours":12,"minutes":10},"type":"temporal"},"y":{"datum":7.4,"type":"quantitative"},"x2":{"datum":{"year":2020,"month":3,"date":6,"hours":10,"minutes":30}},"y2":{"datum":10.0}}},
  {"data":{"values":[{}]},"mark":{"type":"point","shape":"triangle","filled":true,"size":30,"color":"#F0A070","angle":324,"opacity":1},"encoding":{"x":{"datum":{"year":2020,"month":3,"date":6,"hours":10,"minutes":30},"type":"temporal"},"y":{"datum":10.0,"type":"quantitative"}}},
  {"data":{"values":[{}]},"mark":{"type":"rect","fill":"white","stroke":"#404040","strokeWidth":1.5},"encoding":{"x":{"datum":{"year":2020,"month":3,"date":6,"hours":11,"minutes":20},"type":"temporal"},"x2":{"datum":{"year":2020,"month":3,"date":6,"hours":22}},"y":{"datum":30.6,"type":"quantitative"},"y2":{"datum":26.0}}},
  {"data":{"values":[{}]},"mark":{"type":"text","fontSize":11,"font":"Lato","color":"#404040","align":"center","baseline":"middle"},"encoding":{"x":{"datum":{"year":2020,"month":3,"date":6,"hours":16,"minutes":40},"type":"temporal"},"y":{"datum":28.3,"type":"quantitative"},"text":{"value":"19.0 FNU"}}},
  {"data":{"values":[{}]},"mark":{"type":"rect","fill":"white","stroke":"#404040","strokeWidth":1.5},"encoding":{"x":{"datum":{"year":2020,"month":3,"date":6,"hours":12,"minutes":10},"type":"temporal"},"x2":{"datum":{"year":2020,"month":3,"date":6,"hours":21,"minutes":20}},"y":{"datum":5.1,"type":"quantitative"},"y2":{"datum":0.7}}},
  {"data":{"values":[{}]},"mark":{"type":"text","fontSize":11,"font":"Lato","color":"#404040","align":"center","baseline":"middle"},"encoding":{"x":{"datum":{"year":2020,"month":3,"date":6,"hours":16,"minutes":40},"type":"temporal"},"y":{"datum":2.9,"type":"quantitative"},"text":{"value":"16.6 FNU"}}},
  {"data":{"values":[{}]},"mark":{"type":"text","fontSize":22,"font":"Lato","color":"black","align":"center","baseline":"middle","dx":-45,"dy":10},"encoding":{"x":{"datum":{"year":2020,"month":3,"date":4,"hours":12},"type":"temporal"},"y":{"datum":35,"type":"quantitative"},"text":{"value":"C"}}}
 ]
}
],
"resolve":{"scale":{"color":"independent"},"legend":{"color":"independent"}}
}
